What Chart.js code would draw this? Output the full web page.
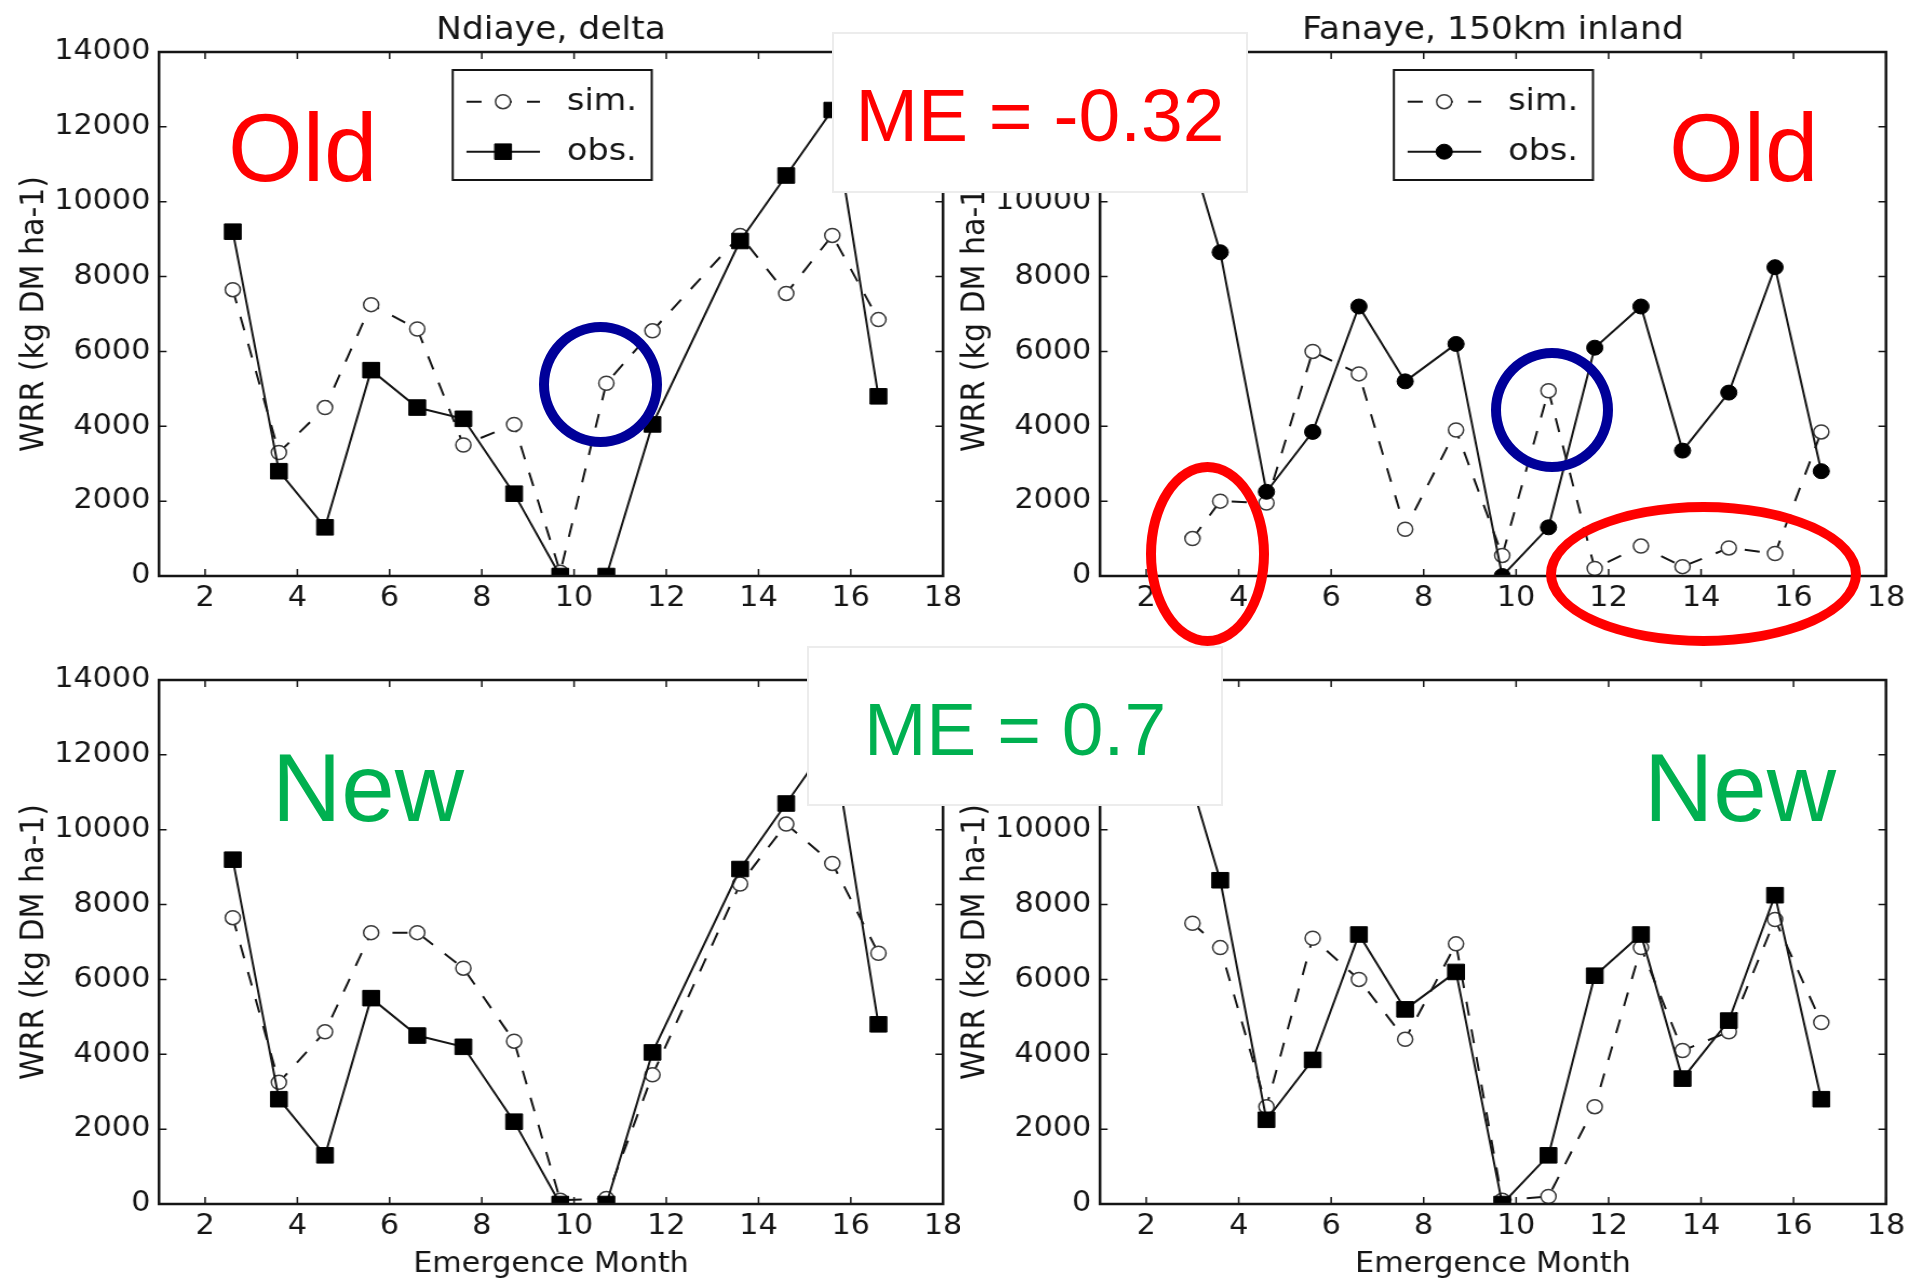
<!DOCTYPE html>
<html>
<head>
<meta charset="utf-8">
<title>WRR by emergence month</title>
<script src="https://cdn.jsdelivr.net/npm/chart.js@4.4.1/dist/chart.umd.min.js"></script>
<style>
  html, body { margin: 0; padding: 0; background: #fff; }
  body { position: relative; width: 1909px; height: 1278px; overflow: hidden; }
  canvas.panel { position: absolute; }
  .me-box { position: absolute; background: #fff; border: 2px solid #ececec; box-sizing: border-box; }
  .me-text, .tag { position: absolute; font-family: "Liberation Sans", Arial, sans-serif; line-height: 1; white-space: nowrap; }
  .me-text { font-size: 75px; text-align: center; }
  .tag { font-size: 96px; }
  .ring { position: absolute; border-radius: 50%; box-sizing: border-box; }
  .red { color: #ff0000; }
  .green { color: #00b050; }
</style>
</head>
<body>

<canvas class="panel" id="ndiayeOld"></canvas>
<canvas class="panel" id="fanayeOld"></canvas>
<canvas class="panel" id="ndiayeNew"></canvas>
<canvas class="panel" id="fanayeNew"></canvas>

<!-- model efficiency boxes -->
<div class="me-box" style="left:832px;top:32px;width:416px;height:161px;"></div>
<div class="me-text red" style="left:832px;top:78px;width:416px;">ME = -0.32</div>
<div class="me-box" style="left:807px;top:646px;width:416px;height:160px;"></div>
<div class="me-text green" style="left:807px;top:692px;width:416px;">ME = 0.7</div>

<!-- version tags -->
<div class="tag red" style="left:228px;top:100px;">Old</div>
<div class="tag red" style="left:1669px;top:100px;">Old</div>
<div class="tag green" style="left:272px;top:740px;">New</div>
<div class="tag green" style="left:1644px;top:740px;">New</div>

<!-- highlighted regions -->
<div class="ring" style="left:539px;top:322px;width:123px;height:125px;border:10px solid #000099;"></div>
<div class="ring" style="left:1491px;top:348px;width:122px;height:124px;border:10px solid #000099;"></div>
<div class="ring" style="left:1146px;top:462px;width:123px;height:184px;border:10px solid #ff0000;"></div>
<div class="ring" style="left:1546px;top:502px;width:315px;height:144px;border:10px solid #ff0000;"></div>

<script>
// ---- axis ticks ----
const xTickLabels = [2, 4, 6, 8, 10, 12, 14, 16, 18];
const yTickLabels = [0, 2000, 4000, 6000, 8000, 10000, 12000, 14000];

// ---- Ndiaye (delta) ----
const ndiayeMonths = [2.6, 3.6, 4.6, 5.6, 6.6, 7.6, 8.7, 9.7, 10.7, 11.7, 13.6, 14.6, 15.6, 16.6];
const ndiayeObs    = [9200, 2800, 1300, 5500, 4500, 4200, 2200, 0, 0, 4050, 8950, 10700, 12450, 4800];
const ndiayeSimOld = [7650, 3300, 4500, 7250, 6600, 3500, 4050, 100, 5150, 6550, 9100, 7550, 9100, 6850];
const ndiayeSimNew = [7650, 3250, 4600, 7250, 7250, 6300, 4350, 100, 150, 3450, 8550, 10150, 9100, 6700];

// ---- Fanaye (150 km inland) ----
const fanayeObsMonths = [2.6, 3.6, 4.6, 5.6, 6.6, 7.6, 8.7, 9.7, 10.7, 11.7, 12.7, 13.6, 14.6, 15.6, 16.6];
const fanayeObs       = [12800, 8650, 2250, 3850, 7200, 5200, 6200, 0, 1300, 6100, 7200, 3350, 4900, 8250, 2800];
const fanayeSimMonths = [3.0, 3.6, 4.6, 5.6, 6.6, 7.6, 8.7, 9.7, 10.7, 11.7, 12.7, 13.6, 14.6, 15.6, 16.6];
const fanayeSimOld    = [1000, 2000, 1950, 6000, 5400, 1250, 3900, 550, 4950, 200, 800, 250, 750, 600, 3850];
const fanayeSimNew    = [7500, 6850, 2600, 7100, 6000, 4400, 6950, 100, 200, 2600, 6850, 4100, 4600, 7600, 4850];

// ---- drawing ----
const STRETCH = 1.08;            // chart canvases are shown slightly widened
const INK = '#151515';
Chart.defaults.font.family = '"DejaVu Sans", sans-serif';
Chart.defaults.color = INK;

const pairs = (xs, ys) => xs.map((x, i) => ({ x, y: ys[i] }));

function simSeries(xs, ys) {
  return {
    label: 'sim.', data: pairs(xs, ys), order: 1,
    borderColor: INK, borderWidth: 2, borderDash: [14, 14],
    pointStyle: 'circle', pointRadius: 7, pointBorderWidth: 1.5,
    pointBackgroundColor: '#ffffff', pointBorderColor: '#3a3a3a'
  };
}
function obsSeries(xs, ys, style) {
  return {
    label: 'obs.', data: pairs(xs, ys), order: 0,
    borderColor: INK, borderWidth: 2,
    pointStyle: style, pointRadius: style === 'rect' ? 11 : 7.5, pointBorderWidth: 1,
    pointBackgroundColor: '#000000', pointBorderColor: '#000000'
  };
}

// boxed axes with inward tick marks on all four sides
const frameAndTicks = {
  id: 'frameAndTicks',
  afterDatasetsDraw(chart) {
    const { ctx, chartArea: a, scales: { x, y } } = chart;
    const len = 7;
    ctx.save();
    ctx.strokeStyle = INK;
    ctx.lineWidth = 1.5;
    ctx.beginPath();
    x.ticks.forEach(t => {
      const px = x.getPixelForValue(t.value);
      ctx.moveTo(px, a.bottom); ctx.lineTo(px, a.bottom - len);
      ctx.moveTo(px, a.top); ctx.lineTo(px, a.top + len);
    });
    y.ticks.forEach(t => {
      const py = y.getPixelForValue(t.value);
      ctx.moveTo(a.left, py); ctx.lineTo(a.left + len, py);
      ctx.moveTo(a.right, py); ctx.lineTo(a.right - len, py);
    });
    ctx.stroke();
    ctx.lineWidth = 2.5;
    ctx.strokeRect(a.left, a.top, a.right - a.left, a.bottom - a.top);
    ctx.restore();
  }
};

// framed legend placed inside the axes
const boxLegend = {
  id: 'boxLegend',
  afterDraw(chart, args, o) {
    if (!o.show) return;
    const { ctx, chartArea: a } = chart;
    const L = a.left + o.left, T = a.top + o.top;
    ctx.save();
    ctx.fillStyle = '#ffffff';
    ctx.fillRect(L, T, o.width, o.height);
    ctx.strokeStyle = INK;
    ctx.lineWidth = 2;
    ctx.strokeRect(L, T, o.width, o.height);
    o.order.forEach((di, i) => {
      const ds = chart.data.datasets[di];
      const cy = T + o.firstRow + i * o.rowGap;
      ctx.setLineDash(ds.borderDash || []);
      ctx.strokeStyle = ds.borderColor;
      ctx.lineWidth = ds.borderWidth;
      ctx.beginPath();
      ctx.moveTo(L + o.lineStart, cy);
      ctx.lineTo(L + o.lineEnd, cy);
      ctx.stroke();
      ctx.setLineDash([]);
      ctx.fillStyle = ds.pointBackgroundColor;
      ctx.strokeStyle = ds.pointBorderColor;
      ctx.lineWidth = ds.pointBorderWidth;
      Chart.helpers.drawPoint(ctx, {
        pointStyle: ds.pointStyle, radius: ds.pointRadius, rotation: 0, borderWidth: ds.pointBorderWidth
      }, L + o.markerX, cy);
      ctx.fillStyle = INK;
      ctx.font = '31px "DejaVu Sans"';
      ctx.textAlign = 'left';
      ctx.textBaseline = 'middle';
      ctx.fillText(ds.label, L + o.textX, cy);
    });
    ctx.restore();
  }
};

function panel(id, box, title, datasets, showLegend, showXTitle) {
  const canvas = document.getElementById(id);
  const innerW = Math.round(box.w / STRETCH);
  const s = box.w / innerW;
  canvas.width = innerW;
  canvas.height = box.h;
  canvas.style.left = box.left + 'px';
  canvas.style.top = box.top + 'px';
  canvas.style.width = box.w + 'px';
  canvas.style.height = box.h + 'px';

  const yAxisW = (box.plotL - box.left) / s;
  const rightPad = (box.left + box.w - box.plotR) / s;
  const topGap = box.plotT - box.top;
  const xAxisH = box.top + box.h - box.plotB;
  const tickFont = { size: 28 };

  return new Chart(canvas, {
    type: 'line',
    data: { datasets },
    plugins: [frameAndTicks, boxLegend],
    options: {
      responsive: false,
      animation: false,
      events: [],
      devicePixelRatio: 1,
      layout: { padding: { left: 0, right: rightPad, top: title ? 0 : topGap, bottom: 0 } },
      plugins: {
        legend: { display: false },
        tooltip: { enabled: false },
        title: {
          display: !!title, text: title, fullSize: false, color: INK,
          font: { size: 32, weight: 'normal' },
          padding: { top: 11, bottom: topGap - 11 - 32 * 1.2 }
        },
        boxLegend: {
          show: showLegend, order: [0, 1],
          left: 272, top: 18, width: 184.3, height: 110,
          firstRow: 31.7, rowGap: 50, lineStart: 12.7, lineEnd: 80.8, markerX: 46.6, textX: 105.8
        }
      },
      scales: {
        x: {
          type: 'linear', min: 1, max: 18,
          afterBuildTicks: sc => { sc.ticks = xTickLabels.map(v => ({ value: v })); },
          afterFit: sc => { sc.height = xAxisH; sc.paddingLeft = 0; sc.paddingRight = 0; },
          grid: { display: false, drawTicks: false },
          border: { display: false },
          ticks: { padding: 6, font: tickFont, color: INK, maxRotation: 0, callback: v => String(v) },
          title: {
            display: showXTitle, text: 'Emergence Month', color: INK,
            font: { size: 28, lineHeight: 0.95 }, padding: { top: 0, bottom: 0 }
          }
        },
        y: {
          type: 'linear', min: 0, max: 14000,
          afterBuildTicks: sc => { sc.ticks = yTickLabels.map(v => ({ value: v })); },
          afterFit: sc => { sc.width = yAxisW; sc.paddingTop = 0; sc.paddingBottom = 0; },
          grid: { display: false, drawTicks: false },
          border: { display: false },
          ticks: { padding: 8, font: tickFont, color: INK, callback: v => String(v) },
          title: {
            display: true, text: 'WRR (kg DM ha-1)', color: INK,
            font: { size: 30 }, padding: { top: 14, bottom: 0 }
          }
        }
      }
    }
  });
}

const topRow = { top: 0, h: 640, plotT: 52, plotB: 576 };
const bottomRow = { top: 640, h: 638, plotT: 680, plotB: 1204 };
const leftCol = { left: 0, w: 960, plotL: 159, plotR: 943 };
const rightCol = { left: 941, w: 968, plotL: 1100, plotR: 1886 };

panel('ndiayeOld', { ...topRow, ...leftCol }, 'Ndiaye, delta', [
  simSeries(ndiayeMonths, ndiayeSimOld),
  obsSeries(ndiayeMonths, ndiayeObs, 'rect')
], true, false);

panel('fanayeOld', { ...topRow, ...rightCol }, 'Fanaye, 150km inland', [
  simSeries(fanayeSimMonths, fanayeSimOld),
  obsSeries(fanayeObsMonths, fanayeObs, 'circle')
], true, false);

panel('ndiayeNew', { ...bottomRow, ...leftCol }, '', [
  simSeries(ndiayeMonths, ndiayeSimNew),
  obsSeries(ndiayeMonths, ndiayeObs, 'rect')
], false, true);

panel('fanayeNew', { ...bottomRow, ...rightCol }, '', [
  simSeries(fanayeSimMonths, fanayeSimNew),
  obsSeries(fanayeObsMonths, fanayeObs, 'rect')
], false, true);
</script>
</body>
</html>
